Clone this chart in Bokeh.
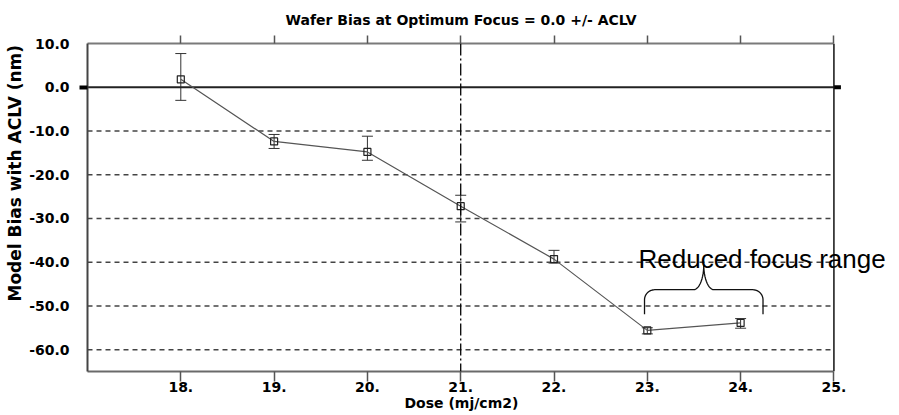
import numpy as np
from bokeh.plotting import figure
from bokeh.models import (ColumnDataSource, Whisker, TeeHead, Span, Label, Title,
                          LinearAxis, FixedTicker, Range1d)
from bokeh.embed import file_html
from bokeh.resources import INLINE

# ---- data -------------------------------------------------------------
dose = [18, 19, 20, 21, 22, 23, 24]                       # mJ/cm2
bias = [1.8, -12.4, -14.8, -27.2, -39.3, -55.6, -53.9]    # nm
bias_upper = [7.7, -10.8, -11.2, -24.7, -37.3, -55.0, -52.9]
bias_lower = [-3.0, -14.0, -16.7, -30.8, -40.2, -56.4, -55.1]

x_ticks = [18, 19, 20, 21, 22, 23, 24, 25]
x_tick_labels = ["18.", "19.", "20.", "21.", "22.", "23.", "24.", "25."]
y_ticks = [10, 0, -10, -20, -30, -40, -50, -60]
y_tick_labels = ["10.0", "0.0", "-10.0", "-20.0", "-30.0", "-40.0", "-50.0", "-60.0"]
grid_levels = [-10, -20, -30, -40, -50, -60]

reference_dose = 21
reduced_range = [23, 24]

X_MIN, X_MAX = 17, 25          # plotted dose window
Y_MIN, Y_MAX = -65, 10

BOLD_FONT = "DejaVu Sans"

# ---- figure -----------------------------------------------------------
# the canvas range runs past X_MAX so the annotation text can overhang the box
p = figure(width=899, height=415, output_backend="svg", toolbar_location=None,
           x_range=Range1d(X_MIN, 25.66), y_range=Range1d(Y_MIN, Y_MAX),
           min_border_left=86, min_border_right=4,
           min_border_top=43, min_border_bottom=44)
p.outline_line_color = None
p.background_fill_color = "white"
p.border_fill_color = "white"

p.title.text = "Wafer Bias at Optimum Focus = 0.0 +/- ACLV"
p.title.align = "left"
p.title.offset = 198
p.title.text_font = BOLD_FONT
p.title.text_font_style = "bold"
p.title.text_font_size = "14px"
p.title.text_color = "black"
p.title.standoff = 16

# bottom axis: dose ticks with labels
xa = p.xaxis[0]
xa.bounds = (X_MIN, X_MAX)
xa.ticker = FixedTicker(ticks=x_ticks)
xa.major_label_overrides = dict(zip(x_ticks, x_tick_labels))
xa.major_tick_out = 10
xa.major_tick_in = 0
xa.minor_tick_line_color = None
xa.major_tick_line_color = "#555555"
xa.major_tick_line_width = 1.5
xa.axis_line_color = "#6a6a6a"
xa.axis_line_width = 2
xa.major_label_standoff = 0
xa.major_label_text_font = BOLD_FONT
xa.major_label_text_font_style = "bold"
xa.major_label_text_font_size = "14px"
xa.major_label_text_color = "black"

# top axis: ticks only
top = LinearAxis(ticker=FixedTicker(ticks=x_ticks), bounds=(X_MIN, X_MAX),
                 major_tick_out=8, major_tick_in=0,
                 minor_tick_line_color=None, major_tick_line_color="#555555",
                 major_tick_line_width=1.5, axis_line_color="#7a7a7a", axis_line_width=2,
                 major_label_overrides={t: "" for t in x_ticks},
                 major_label_text_font_size="1px", major_label_standoff=0)
p.add_layout(top, "above")

# inner left axis: frame line with a heavy mark at zero
ya = p.yaxis[0]
ya.ticker = FixedTicker(ticks=[0])
ya.major_tick_out = 8
ya.major_tick_in = 0
ya.major_tick_line_width = 4
ya.major_tick_line_color = "black"
ya.minor_tick_line_color = None
ya.axis_line_color = "#444444"
ya.axis_line_width = 2
ya.major_label_overrides = {0: ""}
ya.major_label_text_font_size = "1px"
ya.major_label_standoff = 0

# outer left axis: bias labels
ylab = LinearAxis(ticker=FixedTicker(ticks=y_ticks),
                  major_label_overrides=dict(zip(y_ticks, y_tick_labels)),
                  axis_line_color=None, major_tick_line_color=None,
                  minor_tick_line_color=None, major_tick_out=0, major_tick_in=0,
                  major_label_standoff=10, major_label_text_font=BOLD_FONT,
                  major_label_text_font_style="bold", major_label_text_font_size="14px",
                  major_label_text_color="black")
p.add_layout(ylab, "left")

p.add_layout(Title(text="Model Bias with ACLV (nm)", align="left", offset=70,
                   standoff=4, text_font=BOLD_FONT, text_font_style="bold",
                   text_font_size="17px", text_color="black"), "left")
p.add_layout(Title(text="Dose (mj/cm2)", align="left", offset=317, vertical_align="top",
                   standoff=0, text_font=BOLD_FONT, text_font_style="bold",
                   text_font_size="14px", text_color="black"), "below")

# grid: dashed levels, solid zero line, right edge of the box
p.xgrid.visible = False
p.ygrid.visible = False
p.segment(x0=X_MIN, x1=X_MAX, y0=grid_levels, y1=grid_levels,
          line_color="#444444", line_width=1.5, line_dash="5 4")
p.segment(x0=X_MIN, x1=X_MAX, y0=0, y1=0, line_color="#222222", line_width=2)
p.add_layout(Span(location=X_MAX, dimension="height", line_color="#111111", line_width=1.5))
p.segment(x0=X_MAX, x1=X_MAX + 0.075, y0=0, y1=0, line_color="black", line_width=4)
p.add_layout(Span(location=reference_dose, dimension="height", line_color="black",
                  line_width=1.3, line_dash="12 3 2 3"))

# ---- data marks -------------------------------------------------------
src = ColumnDataSource(dict(dose=dose, bias=bias, upper=bias_upper, lower=bias_lower))
p.line("dose", "bias", source=src, line_color="#555555", line_width=1.2)
p.add_layout(Whisker(base="dose", upper="upper", lower="lower", source=src,
                     line_color="#333333", line_width=1,
                     upper_head=TeeHead(size=11, line_color="#333333", line_width=1),
                     lower_head=TeeHead(size=11, line_color="#333333", line_width=1)))
p.scatter("dose", "bias", source=src, marker="square", size=7, fill_color=None,
          line_color="#222222", line_width=1.2)

# ---- curly brace over the reduced focus range --------------------------
def curly_brace(x0, x1, y_tip, y_bar, y_peak, rx, ry, n=14):
    xm = (x0 + x1) / 2
    t = np.linspace(0, np.pi / 2, n)
    up = y_peak - y_bar
    # left half, mirrored for the right half
    lx = np.concatenate([[x0], x0 + rx - rx * np.cos(t),
                         (xm - rx) + rx * np.sin(t)])
    ly = np.concatenate([[y_tip], (y_bar - ry) + ry * np.sin(t),
                         y_peak - up * np.cos(t)])
    rxs = 2 * xm - lx[::-1]
    rys = ly[::-1]
    return np.concatenate([lx, rxs]), np.concatenate([ly, rys])

bx, by = curly_brace(reduced_range[0] - 0.03, reduced_range[1] + 0.24,
                     -51.9, -46.3, -40.6, 0.11, 2.3)
p.line(bx, by, line_color="#111111", line_width=1.3)

p.add_layout(Label(x=24.23, y=-39.3, text="Reduced focus range", text_align="center",
                   text_baseline="alphabetic", text_font="Liberation Sans",
                   text_font_size="26px", text_color="black"))

open("out.html", "w").write(file_html(p, INLINE, title="Wafer Bias"))
